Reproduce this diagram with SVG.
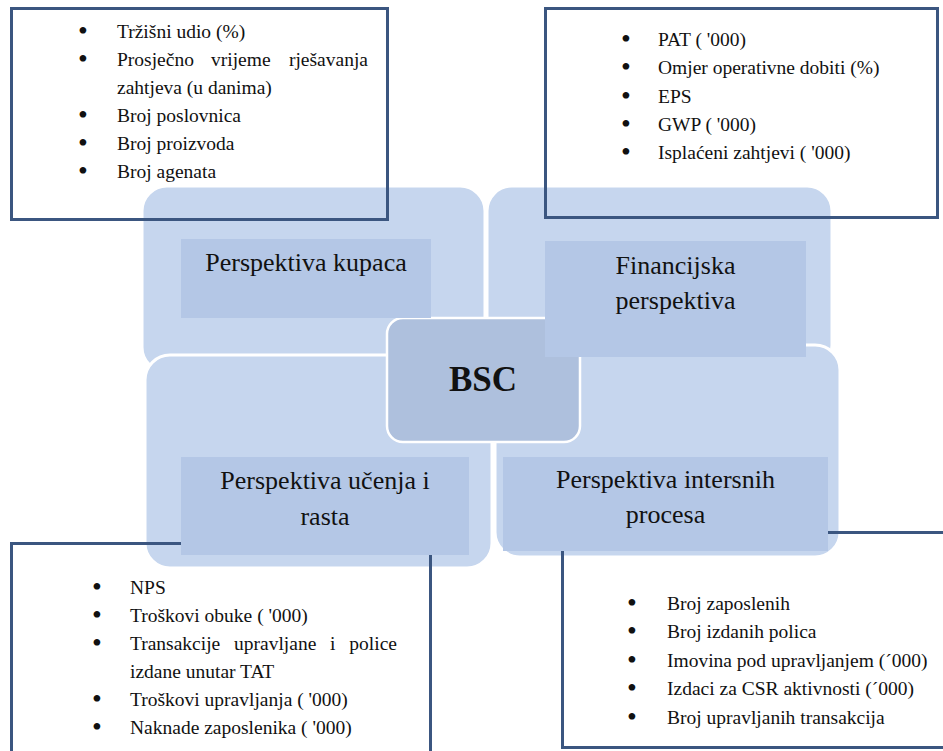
<svg xmlns="http://www.w3.org/2000/svg" width="943" height="751" viewBox="0 0 943 751">
<style>
.quad{fill:#c6d6ee;stroke:#ffffff;stroke-width:3}
.inner{fill:#b4c7e6;stroke:none}
.center{fill:#aec0dd;stroke:#ffffff;stroke-width:2.5}
.box{fill:none;stroke:#3b5680;stroke-width:3}
.t{font-family:"Liberation Serif","Times New Roman",serif;font-size:19.5px;fill:#111}
.b{font-family:"Liberation Serif","Times New Roman",serif;font-size:28px;fill:#111;text-anchor:middle}
.h{font-family:"Liberation Serif","Times New Roman",serif;font-size:26px;fill:#111;text-anchor:middle}
.bsc{font-family:"Liberation Serif","Times New Roman",serif;font-size:35px;font-weight:bold;fill:#111;text-anchor:middle}
</style>
<rect x="0" y="0" width="943" height="751" fill="#ffffff"/>
<g id="background-quadrants">
  <rect class="quad" x="142" y="186" width="343" height="186" rx="25"/>
  <rect class="quad" x="487" y="186" width="345" height="184" rx="25"/>
  <rect class="quad" x="145" y="355" width="347" height="213" rx="25"/>
  <rect class="quad" x="495" y="345" width="345" height="212" rx="25"/>
</g>
<g id="box-kupci">
  <rect class="box" x="11.5" y="8.5" width="376" height="211"/>
  <text class="b" x="83" y="39.5">•</text><text class="t" x="117" y="37.5">Tržišni udio (%)</text>
  <text class="b" x="83" y="67.5">•</text><text class="t" x="117" y="65.5">Prosječno</text><text class="t" x="211" y="65.5">vrijeme</text><text class="t" x="368" y="65.5" text-anchor="end">rješavanja</text>
  <text class="t" x="117" y="93.5">zahtjeva (u danima)</text>
  <text class="b" x="83" y="123.5">•</text><text class="t" x="117" y="121.5">Broj poslovnica</text>
  <text class="b" x="83" y="151.5">•</text><text class="t" x="117" y="149.5">Broj proizvoda</text>
  <text class="b" x="83" y="179.5">•</text><text class="t" x="117" y="177.5">Broj agenata</text>
</g>
<g id="box-financije">
  <rect class="box" x="545.5" y="8.5" width="392" height="209"/>
  <text class="b" x="626" y="48">•</text><text class="t" x="658" y="46">PAT ( '000)</text>
  <text class="b" x="626" y="76.3">•</text><text class="t" x="658" y="74.3">Omjer operativne dobiti (%)</text>
  <text class="b" x="626" y="104.6">•</text><text class="t" x="658" y="102.6">EPS</text>
  <text class="b" x="626" y="133">•</text><text class="t" x="658" y="131">GWP ( '000)</text>
  <text class="b" x="626" y="161.3">•</text><text class="t" x="658" y="159.3">Isplaćeni zahtjevi ( '000)</text>
</g>
<g id="box-ucenje">
  <rect class="box" x="11.5" y="543.5" width="419" height="230"/>
  <text class="b" x="97" y="596">•</text><text class="t" x="130" y="594">NPS</text>
  <text class="b" x="97" y="624">•</text><text class="t" x="130" y="622">Troškovi obuke ( '000)</text>
  <text class="b" x="97" y="652">•</text><text class="t" x="130" y="650">Transakcije</text><text class="t" x="234" y="650">upravljane</text><text class="t" x="330" y="650">i</text><text class="t" x="397" y="650" text-anchor="end">police</text>
  <text class="t" x="130" y="678">izdane unutar TAT</text>
  <text class="b" x="97" y="708">•</text><text class="t" x="130" y="706">Troškovi upravljanja ( '000)</text>
  <text class="b" x="97" y="736">•</text><text class="t" x="130" y="734">Naknade zaposlenika ( '000)</text>
</g>
<g id="box-procesi">
  <rect class="box" x="562.5" y="532.5" width="400" height="215"/>
  <text class="b" x="632" y="612">•</text><text class="t" x="667" y="610">Broj zaposlenih</text>
  <text class="b" x="632" y="640.4">•</text><text class="t" x="667" y="638.4">Broj izdanih polica</text>
  <text class="b" x="632" y="668.8">•</text><text class="t" x="667" y="666.8">Imovina pod upravljanjem (´000)</text>
  <text class="b" x="632" y="697.2">•</text><text class="t" x="667" y="695.2">Izdaci za CSR aktivnosti (´000)</text>
  <text class="b" x="632" y="725.6">•</text><text class="t" x="667" y="723.6">Broj upravljanih transakcija</text>
</g>
<g id="bsc">
  <rect class="center" x="387" y="318" width="193" height="124" rx="16"/>
  <text class="bsc" x="483" y="391">BSC</text>
</g>
<g id="kupci">
  <rect class="inner" x="181" y="239" width="250" height="79"/>
  <text class="h" x="306" y="271">Perspektiva kupaca</text>
</g>
<g id="financije">
  <rect class="inner" x="545" y="241" width="261" height="116"/>
  <text class="h" x="675.5" y="274">Financijska</text>
  <text class="h" x="675.5" y="309">perspektiva</text>
</g>
<g id="ucenje">
  <rect class="inner" x="181" y="457" width="288" height="98"/>
  <text class="h" x="325" y="489">Perspektiva učenja i</text>
  <text class="h" x="325" y="525">rasta</text>
</g>
<g id="procesi">
  <rect class="inner" x="503" y="457" width="325" height="94"/>
  <text class="h" x="665.5" y="488">Perspektiva intersnih</text>
  <text class="h" x="665.5" y="523">procesa</text>
</g>
<g id="connectors"></g>
</svg>
